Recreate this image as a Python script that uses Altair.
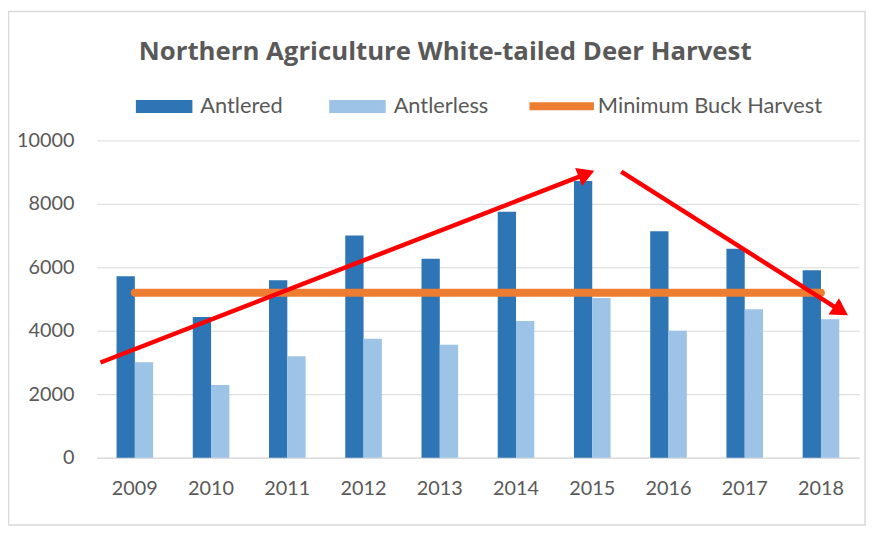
import altair as alt
import pandas as pd

# ---- data ----
years = ["2009", "2010", "2011", "2012", "2013", "2014", "2015", "2016", "2017", "2018"]
antlered = [5720, 4430, 5590, 7000, 6270, 7750, 8720, 7135, 6585, 5905]
antlerless = [3010, 2290, 3200, 3750, 3560, 4310, 5030, 4000, 4680, 4365]
min_buck = [5200, 5200, 5200, 5200, 5200, 5200, 5200, 5200, 5200, 5200]
y_ticks = [0, 2000, 4000, 6000, 8000, 10000]

# red hand-drawn arrows (annotation, in year / value units)
arrow_id = ["up", "up", "down", "down"]
arrow_x = [2008.55, 2014.89, 2015.38, 2018.23]
arrow_y = [3000, 8913, 9019, 4675]
head_x = [2014.89, 2018.23]
head_y = [8913, 4675]
head_angle = [68.8, 122.4]

series_names = ["Antlered", "Antlerless"]
bar_colors = ["#2E75B6", "#9DC3E6"]
line_name = "Minimum Buck Harvest"
line_color = "#ED7D31"
text_color = "#595959"
grid_color = "#D9D9D9"
FONT = "Lato"

bar_df = pd.DataFrame({
    "year": years * 2,
    "series": ["Antlered"] * len(years) + ["Antlerless"] * len(years),
    "value": antlered + antlerless,
})
line_df = pd.DataFrame({"year": years, "series": [line_name] * len(years), "value": min_buck})
arrow_df = pd.DataFrame({"id": arrow_id, "ax": arrow_x, "ay": arrow_y})
head_df = pd.DataFrame({"hx": head_x, "hy": head_y, "angle": head_angle})

rect_path = "M-1,-0.23H1V0.23H-1Z"

x_enc = alt.X(
    "year:N",
    sort=years,
    scale=alt.Scale(paddingInner=0.52, paddingOuter=0.26),
    axis=alt.Axis(title=None, labelAngle=0, ticks=False, domainColor=grid_color,
                  labelFontSize=20, labelColor=text_color, labelFont=FONT, labelPadding=21),
)
y_enc = alt.Y(
    "value:Q",
    scale=alt.Scale(domain=[0, 10000], nice=False),
    axis=alt.Axis(title=None, values=y_ticks, format="d", ticks=False, domain=False,
                  gridColor=grid_color, labelFontSize=20, labelColor=text_color,
                  labelFont=FONT, labelPadding=23),
)

bars = alt.Chart(bar_df).mark_bar().encode(
    x=x_enc,
    xOffset=alt.XOffset("series:N", sort=series_names,
                        scale=alt.Scale(paddingInner=0, paddingOuter=0)),
    y=y_enc,
    fill=alt.Fill(
        "series:N",
        scale=alt.Scale(domain=series_names, range=bar_colors),
        legend=alt.Legend(
            title=None, orient="none", legendX=39.5, legendY=-63, direction="horizontal",
            columns=2, symbolType=rect_path, symbolSize=3249, symbolStrokeWidth=0,
            symbolOpacity=1, labelFontSize=22, labelColor=text_color, labelFont=FONT,
            labelOffset=8, columnPadding=46, padding=0, labelLimit=300,
        ),
    ),
)

line = alt.Chart(line_df).mark_line(strokeWidth=8, strokeCap="round").encode(
    x=x_enc,
    y=y_enc,
    stroke=alt.Stroke(
        "series:N",
        scale=alt.Scale(domain=[line_name], range=[line_color]),
        legend=alt.Legend(
            title=None, orient="none", legendX=432.5, legendY=-71, symbolType="stroke",
            symbolSize=4225, symbolStrokeWidth=8, labelFontSize=22, labelColor=text_color,
            labelFont=FONT, labelOffset=0, padding=0, labelLimit=300,
        ),
    ),
)

frame = alt.Chart(pd.DataFrame({"k": [0]})).mark_rect(
    fill="transparent", stroke=grid_color, strokeWidth=1.5
).encode(
    x=alt.value(-89), x2=alt.value(775), y=alt.value(-130), y2=alt.value(388)
)

xq = alt.Scale(domain=[2008.5, 2018.5], nice=False, zero=False)
arrows = alt.Chart(arrow_df).mark_line(color="#FF0000", strokeWidth=4.5).encode(
    x=alt.X("ax:Q", scale=xq, axis=None),
    y=alt.Y("ay:Q", title=None),
    detail="id:N",
)
heads = alt.Chart(head_df).mark_point(
    shape="triangle", filled=True, color="#FF0000", size=380, opacity=1
).encode(
    x=alt.X("hx:Q", scale=xq, axis=None),
    y=alt.Y("hy:Q", title=None),
    angle=alt.Angle("angle:Q", scale=None),
)

chart = alt.layer(
    frame, alt.layer(bars, line), arrows, heads
).resolve_scale(
    x="independent"
).properties(
    width=769,
    height=320,
    autosize=alt.AutoSizeParams(type="none"),
    padding={"left": 89.5, "top": 131.3, "right": 10, "bottom": 70},
    background="white",
    title=alt.TitleParams(
        "Northern Agriculture White-tailed Deer Harvest",
        font="Open Sans", fontSize=26, fontWeight="bold", color=text_color,
        anchor="middle", dx=-33, offset=-76, baseline="alphabetic",
    ),
).configure_view(stroke=None)

chart.save("out.html", embed_options={"renderer": "svg", "actions": False})
